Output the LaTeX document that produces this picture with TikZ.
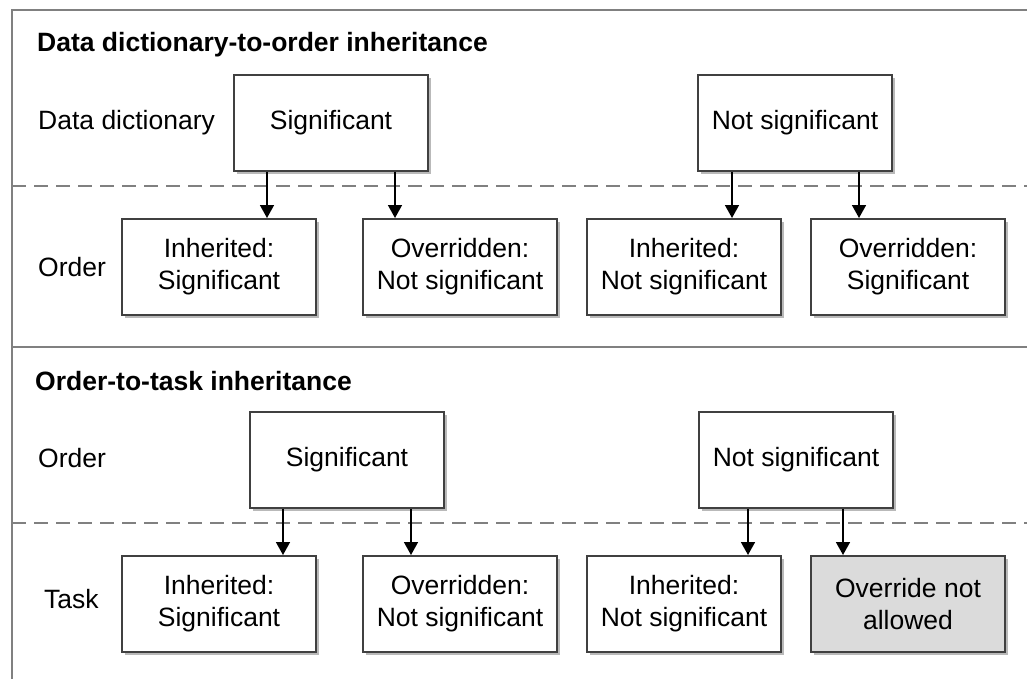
\documentclass[tikz,border=0pt]{standalone}
\usepackage{fontspec}
\setmainfont{Liberation Sans}
\usetikzlibrary{shadows,arrows.meta}
\begin{document}
\begin{tikzpicture}[x=1pt,y=-1pt,
  box/.style={draw=black!75, line width=2pt, fill=white, minimum width=194pt, minimum height=96pt,
    inner sep=0pt, align=center, font=\fontsize{26.5}{32}\selectfont,
    drop shadow={shadow xshift=3pt, shadow yshift=-3pt, fill=black!50, opacity=.55}},
  greybox/.style={box, fill=black!14},
  lbl/.style={anchor=west, inner sep=0pt, font=\fontsize{26.5}{32}\selectfont},
  ttl/.style={anchor=west, inner sep=0pt, font=\fontsize{26.5}{32}\selectfont\bfseries},
  frame/.style={draw=black!50, line width=2.5pt},
  sep/.style={draw=black!50, line width=2pt, dash pattern=on 14pt off 8pt},
  arr/.style={draw=black, line width=1.6pt, -{Triangle[length=13pt,width=14pt]}}]
\useasboundingbox (0,0) rectangle (1027,679);
% frame
\draw[frame] (1027,10) -- (12,10) -- (12,679);
\draw[frame] (12,347) -- (1027,347);
\draw[sep] (12,186) -- (1027,186);
\draw[sep] (12,523) -- (1027,523);
% titles and labels
\node[ttl] (t1) at (37,45) {Data dictionary-to-order inheritance};
\node[lbl] (l1) at (38,123) {Data dictionary};
\node[lbl] (l2) at (38,267) {Order};
\node[ttl] (t2) at (35,381) {Order-to-task inheritance};
\node[lbl] (l3) at (38,458) {Order};
\node[lbl] (l4) at (44,599) {Task};
% top section
\node[box] (dd1) at (331,123) {Significant};
\node[box] (dd2) at (795,123) {Not significant};
\node[box] (o1) at (219,267) {Inherited:\\Significant};
\node[box] (o2) at (460,267) {Overridden:\\Not significant};
\node[box] (o3) at (684,267) {Inherited:\\Not significant};
\node[box] (o4) at (908,267) {Overridden:\\Significant};
% bottom section
\node[box] (b1) at (347,460) {Significant};
\node[box] (b2) at (796,460) {Not significant};
\node[box] (k1) at (219,604) {Inherited:\\Significant};
\node[box] (k2) at (460,604) {Overridden:\\Not significant};
\node[box] (k3) at (684,604) {Inherited:\\Not significant};
\node[greybox] (k4) at (908,604) {Override not\\allowed};
% arrows
\draw[arr] ([xshift=-64pt]dd1.south) -- ([xshift=-64pt]dd1.south |- o1.north);
\draw[arr] ([xshift=64pt]dd1.south) -- ([xshift=64pt]dd1.south |- o2.north);
\draw[arr] ([xshift=-63pt]dd2.south) -- ([xshift=-63pt]dd2.south |- o3.north);
\draw[arr] ([xshift=64pt]dd2.south) -- ([xshift=64pt]dd2.south |- o4.north);
\draw[arr] ([xshift=-64pt]b1.south) -- ([xshift=-64pt]b1.south |- k1.north);
\draw[arr] ([xshift=64pt]b1.south) -- ([xshift=64pt]b1.south |- k2.north);
\draw[arr] ([xshift=-48pt]b2.south) -- ([xshift=-48pt]b2.south |- k3.north);
\draw[arr] ([xshift=47pt]b2.south) -- ([xshift=47pt]b2.south |- k4.north);
\end{tikzpicture}
\end{document}
